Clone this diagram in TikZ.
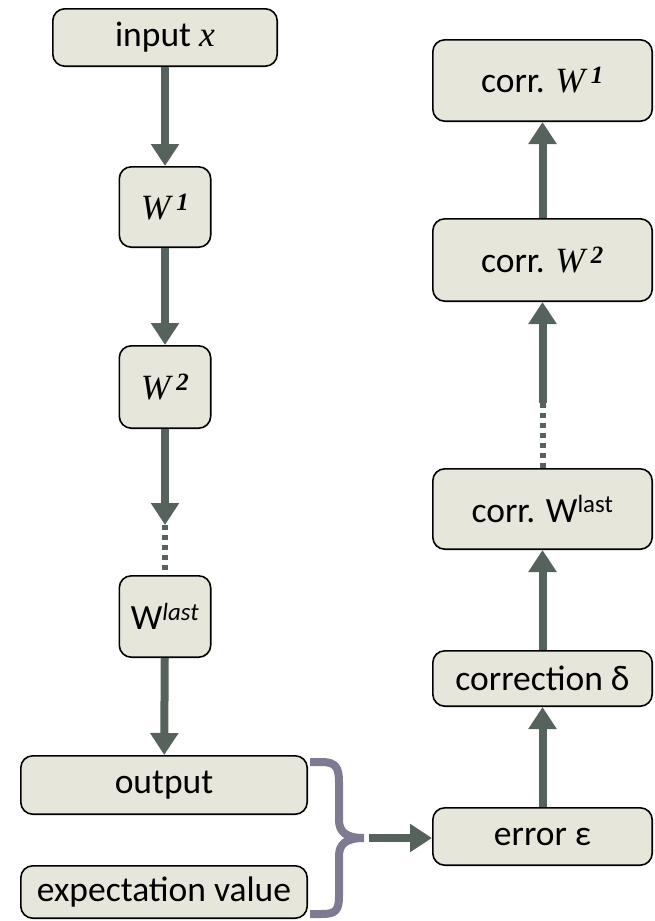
\documentclass[tikz,border=0pt]{standalone}
\usepackage{fontspec}
\setmainfont{Carlito}
\newfontfamily\varfont{Liberation Serif}
\usetikzlibrary{arrows.meta}
\definecolor{boxfill}{RGB}{230,230,218}
\definecolor{flow}{RGB}{86,98,92}
\definecolor{bracecol}{RGB}{125,122,146}
% italic serif symbols with an optional superscript index
\newcommand{\wvar}[1]{{\varfont\itshape W\,\textsuperscript{\bfseries #1}}}
\newcommand{\xvar}{{\varfont\itshape x}}

\begin{document}
\begin{tikzpicture}[x=1pt,y=-1pt,
  stage/.style={draw=black, line width=1.6pt, fill=boxfill, rounded corners=12pt,
    inner sep=0pt, font=\fontsize{35.5}{42}\selectfont},
  narrow/.style={stage, minimum width=91.4pt},
  wide/.style={stage, minimum width=219.4pt},
  flowarrow/.style={draw=flow, line width=8pt, -{Triangle[length=22pt,width=27pt]}},
  flowdots/.style={draw=flow, line width=6pt, dash pattern=on 5pt off 5pt},
]
\useasboundingbox (0,0) rectangle (654,921);

% forward pass
\node[stage, minimum width=224.4pt, minimum height=57.4pt] (in) at (165,37.5) {input \xvar};
\node[narrow, minimum height=80.4pt] (w1) at (165,207) {\wvar{1}};
\node[narrow, minimum height=82.4pt] (w2) at (165,387) {\wvar{2}};
\node[narrow, minimum height=81.4pt] (wl) at (165,616.5) {W\textsuperscript{\itshape last}};
\node[stage, minimum width=286.4pt, minimum height=58.4pt] (out) at (164,785) {output};
\node[stage, minimum width=286.4pt, minimum height=52.4pt] (exp) at (164,892) {expectation value};

% backward pass
\node[wide, minimum height=57.4pt] (err) at (542.5,836.5) {error ε};
\node[wide, minimum height=55.4pt] (cd) at (542.5,678.5) {correction δ};
\node[wide, minimum height=80.4pt] (cwl) at (542.5,509) {corr. W\textsuperscript{last}};
\node[wide, minimum height=82.4pt] (cw2) at (542.5,260) {corr. \wvar{2}};
\node[wide, minimum height=81.4pt] (cw1) at (542.5,80.5) {corr. \wvar{1}};

% forward connectors
\coordinate (ldots) at (165,525);
\draw[flowarrow] (in) -- (w1);
\draw[flowarrow] (w1) -- (w2);
\draw[flowarrow] (w2) -- (ldots);
\draw[flowdots] (ldots) -- (wl);
\draw[flowarrow] (wl) -- (out);

% brace joining output and expectation value
\draw[bracecol, line width=8pt]
  (310,762) -- (322,762) .. controls (336,762) and (339,768) .. (339,782)
  -- (339,820) .. controls (339,832) and (346,838) .. (364,838)
  .. controls (346,838) and (339,844) .. (339,856)
  -- (339,896) .. controls (339,910) and (336,914) .. (322,914) -- (310,914);
\coordinate (btip) at (369,838);
\draw[flowarrow] (btip) -- (btip -| err.west);

% backward connectors
\coordinate (rdots) at (542.5,403);
\draw[flowarrow] (err) -- (cd);
\draw[flowarrow] (cd) -- (cwl);
\draw[flowdots] (cwl) -- (rdots);
\draw[flowarrow] (rdots) -- (cw2);
\draw[flowarrow] (cw2) -- (cw1);
\end{tikzpicture}
\end{document}
